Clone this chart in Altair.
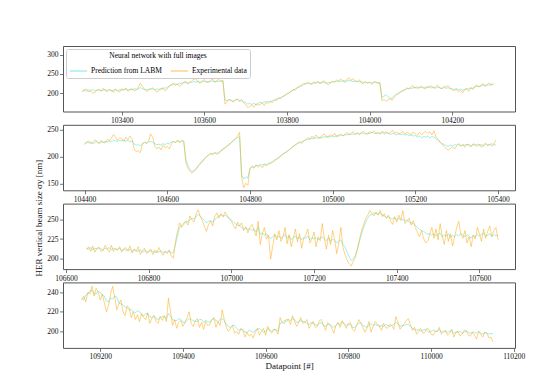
import altair as alt
import pandas as pd

FONT = "Liberation Serif"
SERIES = ["Prediction from LABM", "Experimental data"]
COLORS = ["#40E0D0", "#FFA500"]
STEP = 5

# ---------------- Panel 1 ----------------
p1_start = 103305
p1_exp = [203, 209, 211, 204, 206, 200, 202, 208, 210, 205,
          213, 207, 204, 210, 208, 202, 211, 206, 204, 212,
          208, 214, 205, 210, 212, 206, 209, 214, 226, 218,
          211, 205, 207, 212, 214, 209, 203, 207, 210, 213,
          206, 211, 218, 222, 227, 220, 224, 217, 222, 229,
          231, 224, 227, 233, 236, 238, 229, 226, 232, 235,
          230, 227, 234, 237, 229, 232, 236, 230, 234, 172,
          178, 184, 181, 177, 183, 185, 179, 182, 176, 171,
          163, 166, 170, 164, 173, 169, 171, 175, 168, 177,
          174, 179, 176, 183, 181, 188, 186, 191, 195, 199,
          201, 204, 210, 208, 215, 218, 221, 226, 224, 230,
          225, 222, 229, 227, 231, 224, 228, 233, 226, 222,
          227, 231, 229, 234, 230, 237, 232, 228, 236, 240,
          233, 238, 231, 229, 235, 227, 224, 230, 226, 229,
          223, 227, 231, 225, 228, 181, 184, 180, 183, 186,
          182, 190, 195, 198, 203, 206, 209, 214, 211, 216,
          220, 213, 217, 212, 219, 214, 211, 218, 215, 220,
          213, 217, 221, 214, 212, 218, 216, 220, 213, 210,
          206, 211, 203, 208, 201, 209, 212, 205, 214, 210,
          218, 222, 216, 221, 225, 218, 223, 227, 220, 226]
p1_pred = [207, 208, 205, 209, 207, 210, 206, 208, 209, 207,
           208, 210, 207, 209, 206, 208, 210, 207, 209, 208,
           209, 211, 208, 210, 209, 212, 210, 211, 215, 212,
           210, 209, 211, 210, 212, 209, 211, 210, 212, 214,
           213, 215, 219, 221, 222, 224, 223, 226, 225, 227,
           228, 226, 229, 228, 230, 229, 231, 228, 230, 231,
           229, 231, 230, 232, 229, 231, 230, 232, 231, 183,
           181, 184, 182, 180, 183, 185, 181, 183, 178, 176,
           172, 174, 171, 175, 170, 174, 177, 175, 178, 177,
           179, 178, 181, 183, 185, 187, 189, 192, 194, 198,
           201, 205, 208, 211, 214, 216, 219, 222, 224, 225,
           226, 225, 227, 226, 228, 227, 229, 228, 226, 227,
           228, 230, 229, 231, 232, 230, 233, 232, 231, 233,
           232, 230, 232, 231, 229, 230, 228, 229, 227, 228,
           226, 229, 227, 228, 226, 189, 193, 197, 191, 186,
           188, 194, 198, 201, 204, 207, 209, 211, 213, 212,
           214, 215, 213, 216, 215, 214, 216, 215, 217, 214,
           215, 213, 216, 214, 212, 215, 213, 214, 212, 211,
           210, 212, 209, 211, 208, 210, 212, 211, 214, 213,
           216, 218, 217, 219, 221, 220, 222, 221, 223, 222]
p1_xdom = [103258, 104352]
p1_ydom = [153, 322]
p1_xticks = [103400, 103600, 103800, 104000, 104200]
p1_yticks = [200, 250, 300]

# ---------------- Panel 2 ----------------
p2_start = 104400
p2_exp = [222, 227, 229, 224, 226, 231, 228, 224, 230, 227,
          225, 232, 229, 234, 241, 236, 230, 235, 233, 228,
          236, 231, 238, 233, 214, 209, 211, 207, 223, 227,
          224, 229, 242, 236, 219, 214, 218, 212, 221, 216,
          219, 214, 223, 228, 226, 231, 225, 229, 227, 190,
          178, 172, 169, 173, 176, 182, 186, 190, 195, 199,
          202, 205, 203, 207, 204, 206, 210, 213, 216, 219,
          222, 226, 230, 234, 238, 245, 160, 142, 150, 146,
          176, 181, 178, 184, 180, 183, 179, 185, 182, 186,
          187, 189, 192, 195, 197, 201, 204, 207, 209, 212,
          215, 219, 221, 225, 227, 224, 229, 231, 235, 232,
          238, 234, 240, 236, 233, 239, 242, 237, 235, 241,
          238, 243, 236, 240, 242, 238, 241, 245, 240, 243,
          246, 242, 244, 240, 245, 247, 243, 241, 246, 244,
          248, 243, 245, 241, 247, 244, 246, 242, 245, 249,
          243, 246, 241, 244, 247, 242, 245, 243, 240, 246,
          242, 239, 245, 241, 244, 247, 243, 246, 240, 248,
          236, 232, 226, 223, 218, 214, 212, 215, 218, 214,
          220, 224, 219, 222, 217, 223, 220, 218, 224, 221,
          219, 223, 217, 222, 225, 220, 223, 219, 224, 231]
p2_pred = [224, 226, 225, 227, 224, 226, 228, 225, 227, 226,
           228, 227, 229, 228, 230, 229, 228, 230, 229, 231,
           228, 230, 227, 229, 223, 221, 222, 220, 224, 226,
           225, 227, 228, 226, 224, 222, 223, 221, 224, 222,
           225, 223, 227, 228, 226, 229, 228, 230, 229, 195,
           184, 176, 172, 174, 178, 183, 188, 192, 196, 200,
           203, 206, 205, 207, 206, 208, 211, 214, 217, 220,
           223, 226, 229, 232, 235, 237, 166, 158, 162, 160,
           178, 182, 180, 184, 183, 185, 184, 186, 185, 187,
           189, 191, 194, 196, 199, 202, 205, 207, 210, 213,
           216, 219, 222, 224, 226, 228, 229, 231, 232, 233,
           234, 233, 235, 234, 236, 235, 237, 236, 238, 237,
           238, 237, 239, 238, 240, 239, 241, 240, 242, 241,
           242, 241, 243, 242, 244, 243, 242, 244, 243, 245,
           243, 242, 244, 243, 245, 242, 244, 243, 241, 243,
           242, 240, 243, 241, 242, 240, 241, 239, 240, 238,
           239, 236, 238, 235, 237, 236, 238, 235, 237, 236,
           233, 230, 227, 224, 222, 220, 219, 221, 220, 222,
           221, 223, 220, 222, 221, 223, 222, 220, 222, 221,
           223, 221, 222, 220, 223, 221, 222, 224, 221, 222]
p2_xdom = [104348, 105441]
p2_ydom = [137, 259]
p2_xticks = [104400, 104600, 104800, 105000, 105200, 105400]
p2_yticks = [150, 200, 250]

# ---------------- Panel 3 ----------------
p3_start = 106650
p3_exp = [211, 215, 209, 216, 208, 213, 214, 209, 210, 217,
          212, 208, 217, 209, 213, 211, 215, 208, 212, 214,
          210, 216, 207, 212, 209, 215, 205, 210, 213, 206,
          209, 212, 205, 211, 207, 214, 208, 204, 209, 206,
          211, 203, 200, 222, 235, 246, 240, 244, 248, 243,
          255, 250, 247, 258, 263, 254, 249, 241, 235, 244,
          248, 242, 255, 259, 252, 258, 254, 260, 256, 251,
          248, 243, 238, 247, 242, 246, 236, 241, 233, 240,
          244, 236, 229, 248, 218, 232, 240, 225, 230, 199,
          215, 232, 224, 236, 222, 228, 240, 219, 231, 215,
          226, 238, 221, 232, 213, 226, 230, 238, 220, 225,
          234, 215, 228, 223, 245, 226, 212, 230, 218, 236,
          224, 206, 220, 240, 214, 205, 198, 193, 190, 196,
          201, 212, 225, 236, 244, 252, 256, 262, 258, 255,
          260, 256, 262, 254, 258, 252, 256, 248, 244, 254,
          247, 256, 250, 262, 245, 248, 252, 243, 249, 240,
          234, 228, 236, 226, 220, 222, 232, 240, 226, 238,
          224, 245, 229, 218, 236, 222, 232, 216, 228, 240,
          248, 231, 226, 236, 220, 228, 215, 230, 225, 240,
          232, 222, 238, 226, 235, 242, 228, 236, 240, 224]
p3_pred = [213, 212, 214, 211, 213, 212, 214, 212, 211, 213,
           212, 214, 211, 213, 212, 211, 213, 210, 212, 211,
           210, 212, 209, 211, 210, 209, 211, 208, 210, 209,
           208, 210, 209, 207, 209, 208, 210, 207, 209, 208,
           209, 207, 208, 218, 230, 240, 243, 246, 248, 247,
           250, 252, 251, 254, 257, 255, 252, 249, 246, 248,
           249, 247, 250, 253, 255, 257, 254, 256, 254, 252,
           250, 247, 245, 243, 242, 240, 238, 240, 237, 239,
           236, 238, 234, 240, 231, 233, 230, 232, 228, 226,
           228, 230, 227, 229, 226, 228, 231, 226, 229, 224,
           227, 229, 225, 228, 224, 227, 226, 229, 224, 227,
           225, 227, 224, 226, 228, 225, 223, 226, 222, 225,
           223, 220, 222, 224, 218, 215, 208, 202, 197, 199,
           204, 212, 222, 232, 240, 247, 252, 256, 257, 259,
           258, 257, 259, 256, 255, 253, 254, 252, 251, 253,
           250, 252, 249, 251, 248, 250, 247, 246, 245, 243,
           240, 238, 236, 235, 233, 231, 232, 230, 232, 229,
           231, 233, 228, 230, 229, 232, 227, 230, 228, 231,
           229, 232, 230, 228, 231, 229, 226, 230, 228, 231,
           229, 231, 233, 229, 230, 232, 228, 231, 229, 230]
p3_xdom = [106593, 107686]
p3_ydom = [186, 271]
p3_xticks = [106600, 106800, 107000, 107200, 107400, 107600]
p3_yticks = [200, 225, 250]

# ---------------- Panel 4 ----------------
p4_start = 109155
p4_exp = [232, 236, 230, 240, 238, 246, 236, 244, 240, 232,
          238, 229, 220, 226, 238, 246, 235, 222, 228, 232,
          220, 216, 226, 224, 214, 220, 212, 217, 210, 218,
          214, 212, 219, 208, 213, 216, 210, 208, 215, 211,
          216, 210, 234, 220, 206, 212, 203, 209, 211, 205,
          209, 214, 220, 208, 205, 211, 213, 204, 209, 202,
          210, 206, 207, 212, 214, 204, 210, 206, 222, 212,
          204, 200, 203, 206, 198, 200, 197, 203, 201, 194,
          199, 195, 197, 193, 199, 203, 196, 200, 203, 196,
          205, 200, 198, 202, 201, 197, 214, 209, 208, 212,
          212, 207, 216, 210, 205, 209, 214, 208, 209, 212,
          203, 207, 210, 204, 205, 211, 212, 206, 201, 209,
          207, 203, 198, 206, 209, 204, 211, 207, 203, 208,
          209, 202, 200, 206, 212, 208, 204, 199, 203, 210,
          199, 205, 210, 207, 206, 201, 208, 204, 203, 207,
          206, 202, 215, 209, 202, 205, 208, 211, 213, 207,
          201, 204, 197, 200, 203, 198, 199, 203, 202, 197,
          196, 200, 200, 204, 197, 199, 201, 196, 198, 202,
          194, 199, 200, 195, 197, 201, 201, 196, 195, 199,
          196, 192, 200, 197, 194, 199, 198, 193, 194, 189]
p4_pred = [234, 232, 237, 238, 241, 242, 239, 238, 241, 240,
           237, 236, 231, 230, 234, 233, 236, 235, 229, 228,
           227, 225, 224, 222, 222, 220, 219, 221, 220, 217,
           216, 218, 218, 215, 214, 216, 213, 212, 214, 215,
           215, 213, 218, 216, 212, 211, 211, 213, 212, 209,
           209, 211, 213, 212, 211, 210, 210, 212, 212, 209,
           211, 210, 209, 212, 213, 211, 210, 212, 213, 211,
           207, 205, 204, 206, 206, 203, 201, 202, 202, 199,
           199, 201, 200, 199, 201, 202, 203, 201, 199, 200,
           203, 201, 200, 202, 202, 200, 208, 209, 211, 210,
           212, 211, 213, 212, 209, 210, 211, 210, 210, 208,
           207, 209, 208, 207, 206, 208, 209, 206, 205, 207,
           207, 205, 204, 206, 208, 207, 209, 208, 206, 207,
           207, 204, 204, 206, 208, 209, 206, 205, 204, 206,
           208, 206, 207, 206, 205, 206, 205, 207, 206, 205,
           206, 207, 209, 208, 205, 206, 206, 207, 207, 205,
           203, 202, 201, 202, 200, 201, 202, 201, 199, 200,
           201, 200, 200, 202, 199, 200, 200, 199, 200, 201,
           198, 199, 199, 200, 198, 199, 200, 199, 198, 199,
           199, 198, 200, 198, 197, 199, 198, 197, 198, 197]
p4_xdom = [109110, 110203]
p4_ydom = [183, 250]
p4_xticks = [109200, 109400, 109600, 109800, 110000, 110200]
p4_yticks = [200, 220, 240]

Y_TITLE = "HER vertical beam size σy [nm]"
X_TITLE = "Datapoint [#]"

W, H = 452, 65.5


def make_df(start, pred, exp):
    rows = []
    for name, vals in ((SERIES[0], pred), (SERIES[1], exp)):
        for i, v in enumerate(vals):
            rows.append({"x": start + STEP * i, "y": v, "series": name})
    return pd.DataFrame(rows)


def panel(start, pred, exp, xdom, ydom, xticks, yticks, legend=None,
          xtitle=None, ytitle=None):
    df = make_df(start, pred, exp)
    color_scale = alt.Scale(domain=SERIES, range=COLORS)
    if xtitle:
        xaxis = alt.Axis(values=xticks, format="d", title=xtitle, titlePadding=1)
    else:
        xaxis = alt.Axis(values=xticks, format="d", title=None)
    if ytitle:
        yaxis = alt.Axis(values=yticks, title=ytitle, titleY=14, titlePadding=3)
    else:
        yaxis = alt.Axis(values=yticks, title=None)
    layers = []
    for name in SERIES:
        layers.append(
            alt.Chart(df)
            .transform_filter(alt.datum.series == name)
            .mark_line(strokeWidth=0.7, opacity=0.7)
            .encode(
                x=alt.X("x:Q", scale=alt.Scale(domain=xdom, nice=False, zero=False), axis=xaxis),
                y=alt.Y("y:Q", scale=alt.Scale(domain=ydom, nice=False, zero=False), axis=yaxis),
                color=alt.Color("series:N", scale=color_scale, legend=legend),
            )
        )
    return alt.layer(*layers).properties(width=W, height=H)


legend1 = alt.Legend(
    title="Neural network with full images",
    orient="top-left",
    offset=3,
    direction="horizontal",
    columns=2,
    titleAnchor="middle",
    titleFontWeight="normal",
    titleFont=FONT,
    titleFontSize=7.5,
    titlePadding=2,
    labelFont=FONT,
    labelFontSize=7.5,
    labelOffset=3,
    symbolType="stroke",
    symbolSize=300,
    symbolStrokeWidth=1,
    symbolOpacity=0.7,
    columnPadding=6,
    strokeColor="#cccccc",
    fillColor="white",
    padding=3,
    cornerRadius=2,
)

c1 = panel(p1_start, p1_pred, p1_exp, p1_xdom, p1_ydom, p1_xticks, p1_yticks, legend=legend1)
c2 = panel(p2_start, p2_pred, p2_exp, p2_xdom, p2_ydom, p2_xticks, p2_yticks)
c3 = panel(p3_start, p3_pred, p3_exp, p3_xdom, p3_ydom, p3_xticks, p3_yticks, ytitle=Y_TITLE)
c4 = panel(p4_start, p4_pred, p4_exp, p4_xdom, p4_ydom, p4_xticks, p4_yticks, xtitle=X_TITLE)

chart = (
    alt.vconcat(c1, c2, c3, c4, spacing=12.8, bounds="flush")
    .resolve_scale(color="independent", x="independent", y="independent")
    .properties(padding={"left": 26, "top": 37, "right": 5, "bottom": 5}, background="white")
    .configure_view(stroke="#555555", strokeWidth=1)
    .configure_axis(
        domain=False,
        grid=False,
        tickColor="#555555",
        tickSize=3.5,
        tickWidth=0.8,
        labelFont=FONT,
        labelFontSize=7.5,
        labelColor="#111111",
        labelPadding=1.5,
        titleFont=FONT,
        titleFontSize=9,
        titleFontWeight="normal",
        titleColor="#111111",
    )
)

chart.save("out.html", embed_options={"renderer": "svg", "actions": False})
